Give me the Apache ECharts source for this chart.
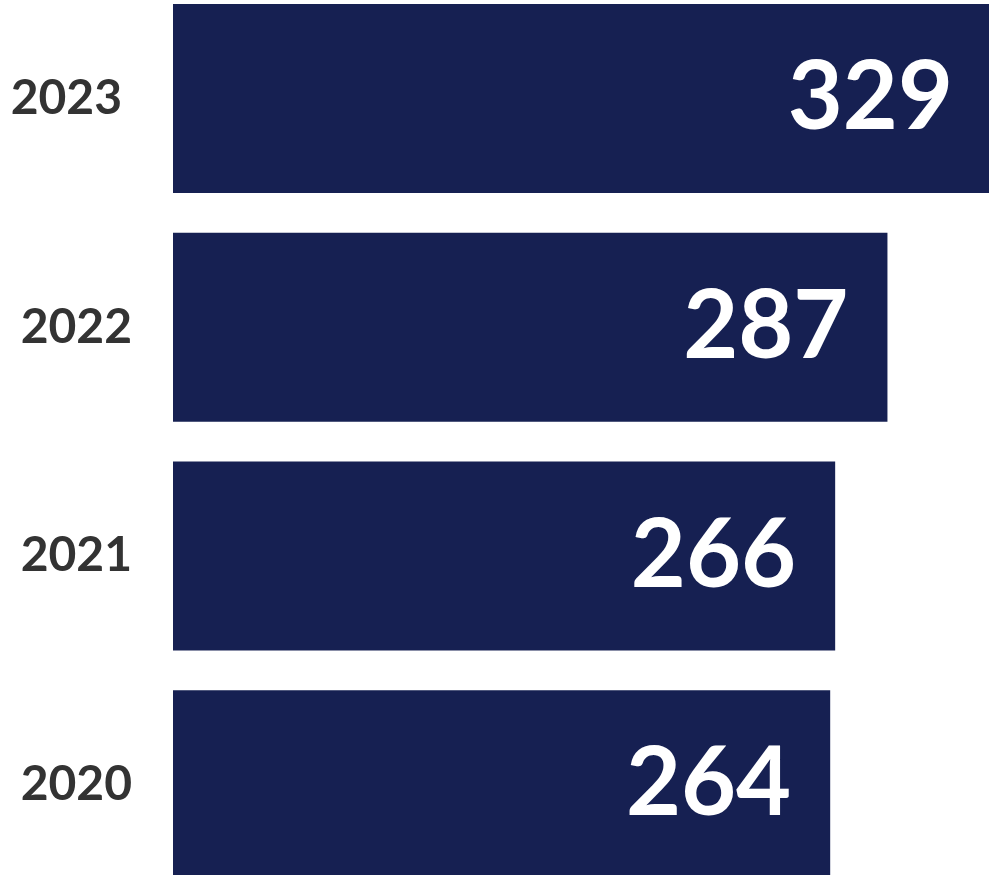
<!DOCTYPE html>
<html>
<head>
<meta charset="utf-8">
<script src="https://cdn.jsdelivr.net/npm/echarts@6/dist/echarts.min.js"></script>
<style>
  html, body { margin: 0; padding: 0; background: #fff; }
  #chart { width: 989px; height: 875px; }
</style>
</head>
<body>
<div id="chart"></div>
<script>
// years top to bottom, and their counts
const years = ['2023', '2022', '2021', '2020'];
const counts = [329, 287, 266, 264];

const chart = echarts.init(document.getElementById('chart'));

chart.setOption({
  animation: false,
  grid: {
    left: 173, right: -3, top: -16, bottom: -24,
    containLabel: false,
    outerBoundsMode: 'none'
  },
  xAxis: {
    type: 'value',
    min: 0,
    max: 329,
    show: false
  },
  yAxis: {
    type: 'category',
    inverse: true,
    data: years.map((y, i) => i === 0
      ? { value: y, textStyle: { padding: [0, 10, 0, 0] } }
      : y),
    axisLine: { show: false },
    axisTick: { show: false },
    axisLabel: {
      margin: 41,
      fontFamily: 'Lato',
      fontWeight: 'bold',
      fontSize: 48,
      color: '#333333'
    }
  },
  series: [
    {
      type: 'bar',
      data: counts,
      barWidth: 189,
      itemStyle: { color: '#162052' },
      label: {
        show: true,
        position: 'insideRight',
        distance: 39,
        fontFamily: 'Lato',
        fontWeight: 'bold',
        fontSize: 95,
        color: '#ffffff'
      }
    }
  ]
});
</script>
</body>
</html>
